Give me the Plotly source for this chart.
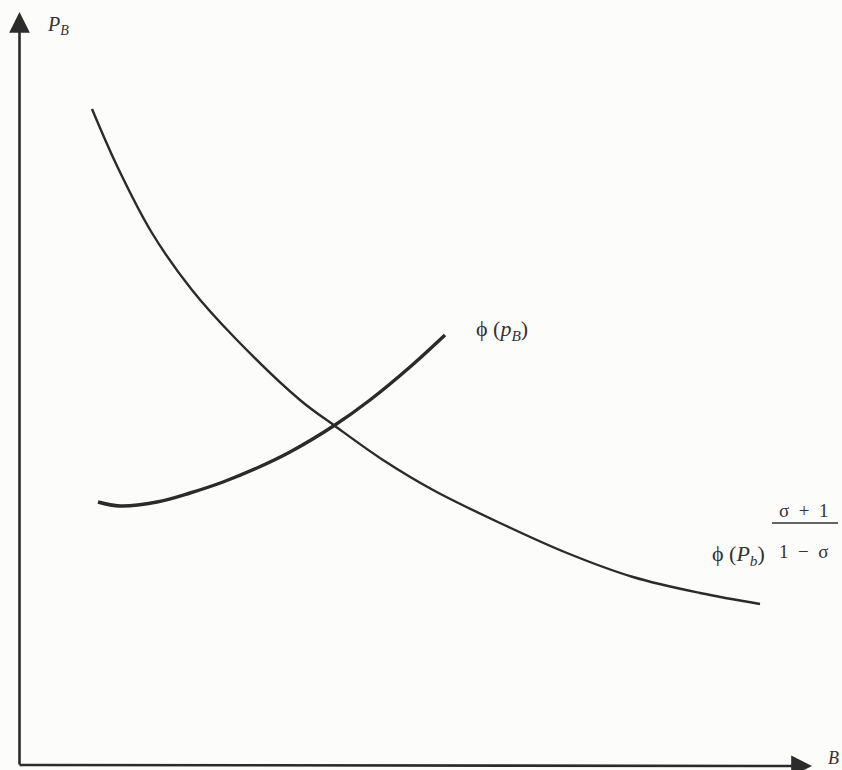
import plotly.graph_objects as go

# values (origin at the corner of the axes)
demand_b = [73, 99, 133, 173, 216, 281, 316, 364, 414, 481, 548, 614, 681, 741]
demand_p = [656, 597, 532, 475, 427, 365, 339, 305, 275, 242, 212, 188, 172, 161]

supply_b = [79, 101, 138, 171, 204, 238, 271, 316, 351, 391, 426]
supply_p = [263, 259, 263, 272, 283, 297, 313, 340, 365, 398, 430]

ink = '#2b2b2b'
serif = 'Liberation Serif, Times New Roman, serif'

fig = go.Figure()

fig.add_trace(go.Scatter(x=demand_b, y=demand_p, mode='lines',
                         line=dict(color=ink, width=2.4, shape='spline', smoothing=1.0),
                         hoverinfo='skip'))
fig.add_trace(go.Scatter(x=supply_b, y=supply_p, mode='lines',
                         line=dict(color=ink, width=3.4, shape='spline', smoothing=1.0),
                         hoverinfo='skip'))

# axes with arrow heads
fig.add_annotation(x=0.5, y=753, ax=0.5, ay=-1, xref='x', yref='y', axref='x', ayref='y',
                   text='', showarrow=True, arrowhead=2, arrowsize=1.6, arrowwidth=2.6,
                   arrowcolor=ink, standoff=0)
fig.add_annotation(x=793, y=-1, ax=-1, ay=0, xref='x', yref='y', axref='x', ayref='y',
                   text='', showarrow=True, arrowhead=2, arrowsize=1.6, arrowwidth=2.6,
                   arrowcolor=ink, standoff=0)

labels = [
    (39, 740, '<i>P</i><sub><i>B</i></sub>', 20),
    (814, 7, '<i>B</i>', 18),
    (483, 435, 'ϕ (<i>p</i><sub><i>B</i></sub>)', 22),
    (784, 255, 'σ  +  1', 19),
    (784, 214, '1  −  σ', 19),
    (719, 210, 'ϕ (<i>P</i><sub><i>b</i></sub>)', 22),
]
for bx, py, txt, size in labels:
    fig.add_annotation(x=bx, y=py, xref='x', yref='y', text=txt, showarrow=False,
                       font=dict(family=serif, size=size, color='#333333'))

# fraction bar
fig.add_shape(type='line', x0=753, x1=819, y0=242, y1=242, xref='x', yref='y',
              line=dict(color='#333333', width=1.6))

fig.update_layout(
    width=842, height=770,
    margin=dict(l=0, r=0, t=0, b=0),
    paper_bgcolor='#fcfcfb', plot_bgcolor='#fcfcfb',
    showlegend=False,
    xaxis=dict(range=[-19, 823], visible=False, fixedrange=True),
    yaxis=dict(range=[-5, 765], visible=False, fixedrange=True),
)

# drop the default page margin so the figure fills the window
fig.write_html("out.html", config={'displayModeBar': False},
               post_script="document.body.style.margin='0';document.body.style.overflow='hidden';")
